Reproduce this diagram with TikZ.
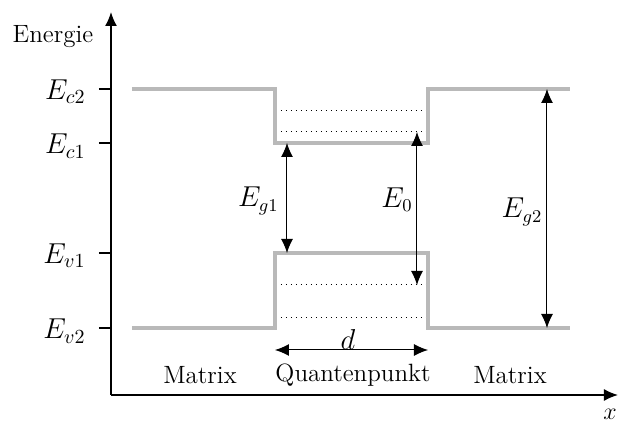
\documentclass[tikz,border=0pt]{standalone}
\usetikzlibrary{arrows.meta}
\definecolor{bandgray}{RGB}{185,185,185}
\begin{document}
\begin{tikzpicture}[x=0.5pt,y=-0.5pt,font=\fontsize{12.5}{15}\selectfont,
  band/.style={bandgray,line width=1.6pt,line join=miter},
  axis/.style={line width=0.8pt,-{Latex[length=7pt,width=6pt]}},
  tick/.style={line width=0.8pt},
  level/.style={dotted,line width=0.5pt},
  dim/.style={line width=0.5pt,{Latex[length=7pt,width=6pt]}-{Latex[length=7pt,width=6pt]}},
  lbl/.style={inner sep=1pt},
  axlbl/.style={inner sep=1pt,anchor=east,font=\fontsize{14.5}{17}\selectfont},
  mlbl/.style={inner sep=1pt,font=\fontsize{13.5}{16}\selectfont}]
\useasboundingbox (0,0) rectangle (618,423);
% axes
\coordinate (O) at (111,395);
\coordinate (Ytop) at (111,12);
\coordinate (Xend) at (618,395);
\draw[axis] (O) -- (Ytop);
\draw[axis] (O) -- (Xend);
\node[lbl] (energie) at (53,37) {Energie};
\node[lbl] (xlab) at (610,414) {$x$};
% ticks
\foreach \yy/\nm/\tx in {89/ec2/{E_{c2}},143/ec1/{E_{c1}},253/ev1/{E_{v1}},328/ev2/{E_{v2}}}{
  \coordinate (t\nm) at (99,\yy);
  \draw[tick] (t\nm) -- (111,\yy);
  \node[axlbl] (l\nm) at (88,\yy+3) {$\tx$};
}
% band corners
\coordinate (c1) at (132,89);  \coordinate (c2) at (275,89);
\coordinate (c3) at (275,143); \coordinate (c4) at (428,143);
\coordinate (c5) at (428,89);  \coordinate (c6) at (570,89);
\coordinate (v1) at (132,328); \coordinate (v2) at (275,328);
\coordinate (v3) at (275,253); \coordinate (v4) at (428,253);
\coordinate (v5) at (428,328); \coordinate (v6) at (570,328);
% dotted levels
\foreach \yy/\nm in {111/a,132/b,285/c,318/d}{
  \coordinate (d\nm l) at (276,\yy);
  \coordinate (d\nm r) at (427,\yy);
  \draw[level] (d\nm l) -- (d\nm r);
}
\draw[band] (c1) -- (c2) -- (c3) -- (c4) -- (c5) -- (c6);
\draw[band] (v1) -- (v2) -- (v3) -- (v4) -- (v5) -- (v6);
% dimension arrows
\coordinate (g1t) at (287,143); \coordinate (g1b) at (287,253);
\coordinate (e0t) at (417,132); \coordinate (e0b) at (417,285);
\coordinate (g2t) at (547,89);  \coordinate (g2b) at (547,328);
\draw[dim] (g1t) -- (g1b);
\draw[dim] (e0t) -- (e0b);
\draw[dim] (g2t) -- (g2b);
\node[mlbl,anchor=east] (leg1) at (281,201) {$E_{g1}$};
\node[mlbl] (le0) at (397,200) {$E_0$};
\node[mlbl] (leg2) at (522,212) {$E_{g2}$};
% width d
\coordinate (dl) at (275,350); \coordinate (dr) at (428,350);
\draw[dim] (dl) -- (dr);
\node[mlbl] (ld) at (348,340) {$d$};
% region labels
\node[lbl] (m1) at (200,375) {Matrix};
\node[lbl] (qp) at (353,375) {Quantenpunkt};
\node[lbl] (m2) at (510,375) {Matrix};
\end{tikzpicture}
\end{document}
